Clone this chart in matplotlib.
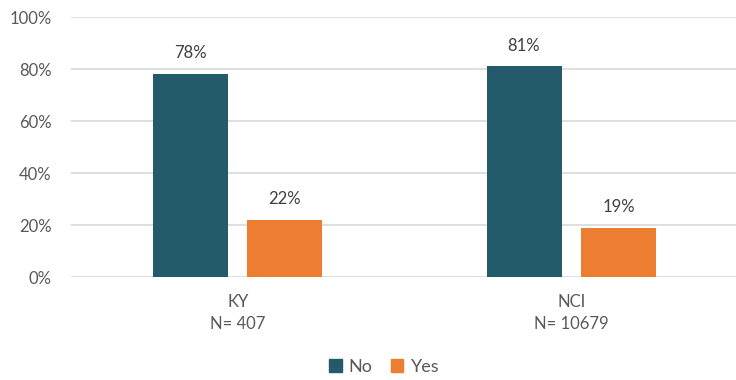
import numpy as np
import matplotlib.pyplot as plt
from matplotlib.patches import Patch

categories = ['KY\nN= 407', 'NCI\nN= 10679']
series_names = ['No', 'Yes']
no_values = [78, 81]
yes_values = [22, 19]
colors = ['#245B6B', '#ED7D31']
text_color = '#595959'

plt.rcParams['font.family'] = ['Lato', 'DejaVu Sans']

fig = plt.figure(figsize=(7.36, 3.80), dpi=100)
ax = fig.add_axes([71 / 736, 1 - 277 / 380, 667 / 736, 260 / 380])

x = np.arange(len(categories))
w = 0.225
off = 0.1415
bars_no = ax.bar(x - off, no_values, w, color=colors[0], zorder=3)
bars_yes = ax.bar(x + off, yes_values, w, color=colors[1], zorder=3)

for bars, vals in [(bars_no, no_values), (bars_yes, yes_values)]:
    for b, v in zip(bars, vals):
        ax.annotate('%d%%' % v, (b.get_x() + b.get_width() / 2, v),
                    xytext=(0, 15), textcoords='offset points',
                    ha='center', va='center', fontsize=12, color='#404040')

ax.set_xlim(-0.5, 1.5)
ax.set_ylim(0, 100)
ax.set_yticks(np.arange(0, 101, 20))
ax.set_yticklabels(['%d%%' % t for t in range(0, 101, 20)])
ax.set_xticks(x)
ax.set_xticklabels(categories, linespacing=1.5)
ax.tick_params(axis='both', length=0, labelsize=12, labelcolor=text_color)
ax.tick_params(axis='y', pad=14)
ax.tick_params(axis='x', pad=12)
ax.grid(axis='y', color='#D9D9D9', linewidth=1.2, zorder=0)
for s in ax.spines.values():
    s.set_visible(False)

handles = [Patch(color=c, label=n) for c, n in zip(colors, series_names)]
fig.legend(handles=handles, loc='center', bbox_to_anchor=(384 / 736, 1 - 367 / 380),
           ncol=2, frameon=False, fontsize=13, handlelength=0.7, handleheight=0.7,
           handletextpad=0.4, columnspacing=1.0, labelcolor=text_color)

fig.savefig('out.png', dpi=100)
